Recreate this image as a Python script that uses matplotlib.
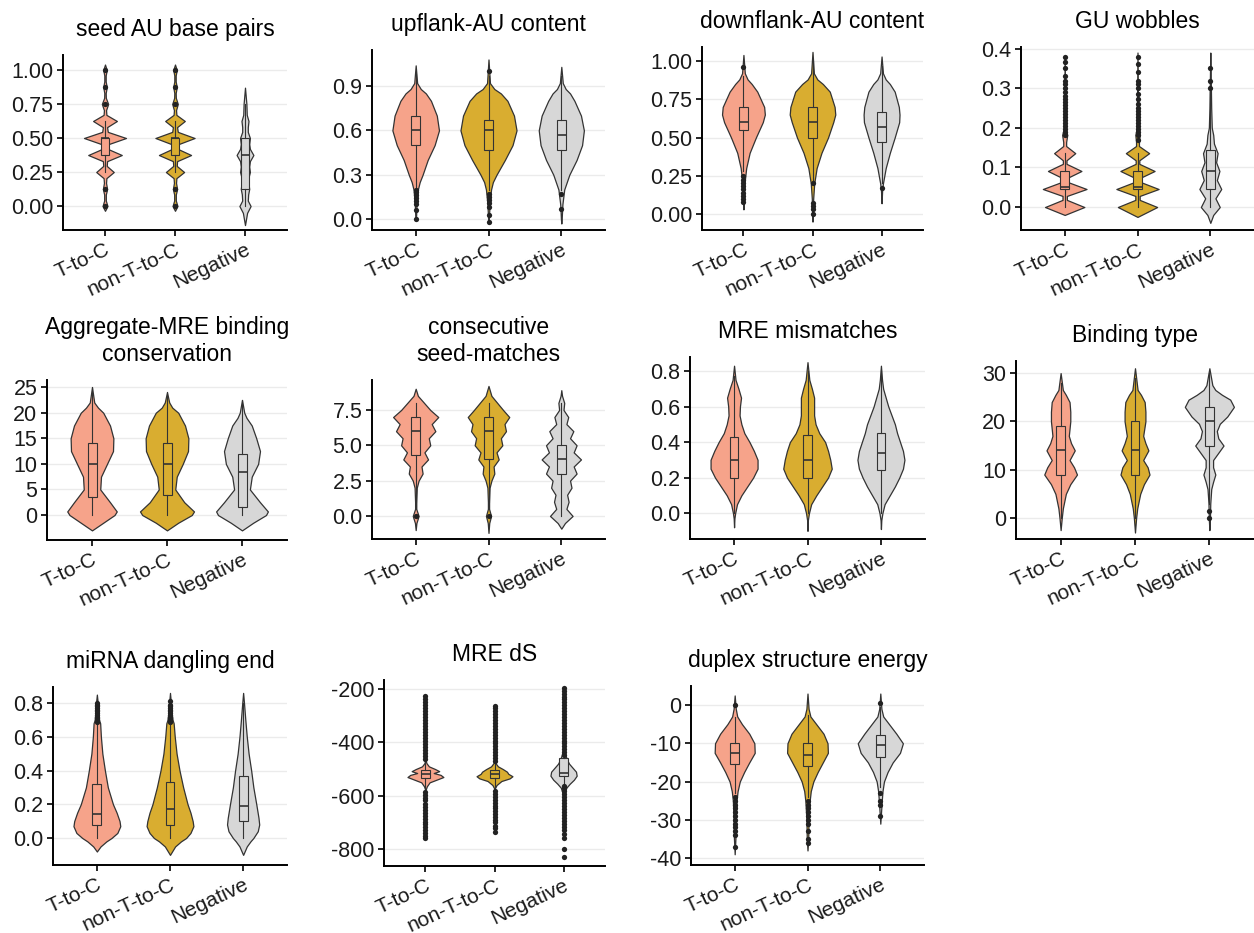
import matplotlib.pyplot as plt

plt.rcParams['font.family'] = ['Liberation Sans', 'DejaVu Sans']

groups = ["T-to-C", "non-T-to-C", "Negative"]
fills = ["#F6A38A", "#D9AD30", "#D7D7D7"]
edge = "#333333"

# each violin: (value, half width), bottom to top
# box: (lower whisker, q1, median, q3, upper whisker)

# seed AU base pairs
seed_au_tc = [(-0.035, 0), (0.0, 0.035), (0.04, 0.012), (0.085, 0.012), (0.125, 0.03), (0.17, 0.015),
              (0.205, 0.02), (0.25, 0.125), (0.295, 0.025), (0.33, 0.03), (0.375, 0.24), (0.42, 0.04),
              (0.455, 0.05), (0.5, 0.3), (0.545, 0.04), (0.58, 0.03), (0.625, 0.17), (0.67, 0.02),
              (0.705, 0.015), (0.75, 0.045), (0.795, 0.012), (0.83, 0.01), (0.875, 0.025), (0.915, 0.01),
              (0.96, 0.01), (1.0, 0.025), (1.04, 0)]
seed_au_ntc = [(-0.035, 0), (0.0, 0.035), (0.04, 0.012), (0.085, 0.012), (0.125, 0.03), (0.17, 0.015),
               (0.205, 0.02), (0.25, 0.13), (0.295, 0.025), (0.33, 0.03), (0.375, 0.23), (0.42, 0.04),
               (0.455, 0.05), (0.5, 0.28), (0.545, 0.04), (0.58, 0.03), (0.625, 0.14), (0.67, 0.02),
               (0.705, 0.015), (0.75, 0.04), (0.795, 0.012), (0.83, 0.01), (0.875, 0.025), (0.915, 0.01),
               (0.96, 0.01), (1.0, 0.025), (1.04, 0)]
seed_au_neg = [(-0.14, 0), (-0.05, 0.03), (0.0, 0.08), (0.04, 0.04), (0.085, 0.045), (0.125, 0.06),
               (0.165, 0.05), (0.21, 0.05), (0.25, 0.07), (0.29, 0.06), (0.33, 0.07), (0.375, 0.12),
               (0.42, 0.07), (0.455, 0.06), (0.5, 0.07), (0.545, 0.04), (0.58, 0.04), (0.625, 0.05),
               (0.67, 0.025), (0.75, 0.02), (0.87, 0)]
seed_au_box = [(0.25, 0.375, 0.5, 0.5, 0.625), (0.25, 0.375, 0.5, 0.5, 0.625), (0.0, 0.125, 0.375, 0.5, 0.75)]
seed_au_out = [[0.0, 0.125, 0.75, 0.875, 1.0], [0.0, 0.125, 0.75, 0.875, 1.0], []]

# upflank-AU content
upflank_tc = [(-0.01, 0), (0.0, 0.004), (0.1, 0.012), (0.2, 0.03), (0.25, 0.055), (0.3, 0.095), (0.4, 0.165),
              (0.5, 0.26), (0.6, 0.32), (0.7, 0.29), (0.8, 0.21), (0.85, 0.14), (0.88, 0.07), (0.92, 0.02), (1.04, 0)]
upflank_ntc = [(-0.03, 0), (0.0, 0.005), (0.1, 0.015), (0.2, 0.035), (0.25, 0.06), (0.3, 0.11), (0.4, 0.225),
               (0.5, 0.33), (0.6, 0.385), (0.7, 0.35), (0.8, 0.26), (0.85, 0.17), (0.88, 0.08), (0.92, 0.02), (1.08, 0)]
upflank_neg = [(-0.03, 0), (0.0, 0.005), (0.1, 0.015), (0.2, 0.04), (0.3, 0.11), (0.4, 0.21), (0.5, 0.285),
               (0.6, 0.31), (0.7, 0.27), (0.8, 0.18), (0.85, 0.12), (0.88, 0.06), (0.92, 0.02), (1.03, 0)]
upflank_box = [(0.22, 0.5, 0.6, 0.7, 0.98), (0.2, 0.47, 0.6, 0.67, 0.97), (0.2, 0.47, 0.57, 0.67, 0.97)]
upflank_out = [[0.0, 0.06, 0.1, 0.125, 0.14, 0.16, 0.18, 0.2],
               [-0.02, 0.03, 0.08, 0.11, 0.13, 0.15, 0.17, 1.0],
               [0.07, 0.17]]

# downflank-AU content
downflank_tc = [(0.03, 0), (0.1, 0.008), (0.2, 0.015), (0.3, 0.04), (0.4, 0.09), (0.5, 0.18), (0.6, 0.28),
                (0.65, 0.31), (0.7, 0.3), (0.8, 0.2), (0.85, 0.12), (0.88, 0.06), (0.92, 0.02), (1.04, 0)]
downflank_ntc = [(-0.05, 0), (0.0, 0.005), (0.1, 0.01), (0.2, 0.025), (0.3, 0.06), (0.4, 0.13), (0.5, 0.225),
                 (0.6, 0.3), (0.65, 0.33), (0.7, 0.32), (0.8, 0.25), (0.85, 0.15), (0.88, 0.07), (0.92, 0.02), (1.06, 0)]
downflank_neg = [(0.07, 0), (0.15, 0.008), (0.2, 0.02), (0.3, 0.06), (0.4, 0.12), (0.5, 0.19), (0.6, 0.255),
                 (0.65, 0.26), (0.7, 0.25), (0.8, 0.19), (0.85, 0.12), (0.88, 0.06), (0.92, 0.02), (1.03, 0)]
downflank_box = [(0.28, 0.55, 0.6, 0.7, 0.9), (0.22, 0.5, 0.6, 0.7, 1.0), (0.2, 0.47, 0.57, 0.67, 0.97)]
downflank_out = [[0.08, 0.1, 0.12, 0.14, 0.16, 0.18, 0.2, 0.22, 0.25, 0.96],
                 [0.0, 0.03, 0.05, 0.07, 0.2],
                 [0.17]]

# GU wobbles
gu_tc = [(-0.02, 0), (0.0, 0.27), (0.018, 0.03), (0.028, 0.03), (0.0455, 0.3), (0.064, 0.03), (0.073, 0.03),
         (0.091, 0.23), (0.109, 0.025), (0.118, 0.025), (0.136, 0.145), (0.154, 0.02), (0.164, 0.02),
         (0.182, 0.035), (0.2, 0.01), (0.38, 0)]
gu_ntc = [(-0.025, 0), (0.0, 0.27), (0.018, 0.03), (0.028, 0.03), (0.0455, 0.29), (0.064, 0.03), (0.073, 0.03),
          (0.091, 0.235), (0.109, 0.025), (0.118, 0.025), (0.136, 0.16), (0.154, 0.02), (0.164, 0.02),
          (0.182, 0.03), (0.2, 0.01), (0.39, 0)]
gu_neg = [(-0.04, 0), (-0.02, 0.04), (0.0, 0.13), (0.022, 0.07), (0.0455, 0.15), (0.068, 0.09), (0.091, 0.125),
          (0.113, 0.08), (0.136, 0.1), (0.16, 0.05), (0.182, 0.04), (0.2, 0.02), (0.25, 0.012), (0.3, 0.008),
          (0.39, 0)]
gu_box = [(0.0, 0.0455, 0.05, 0.091, 0.136), (0.0, 0.0455, 0.05, 0.091, 0.136), (0.0, 0.0455, 0.091, 0.145, 0.29)]
gu_out = [[0.182, 0.19, 0.198, 0.205, 0.212, 0.22, 0.227, 0.235, 0.243, 0.25, 0.258, 0.265, 0.273, 0.28,
           0.29, 0.3, 0.31, 0.318, 0.33, 0.35, 0.365, 0.38],
          [0.17, 0.182, 0.19, 0.198, 0.205, 0.212, 0.22, 0.227, 0.235, 0.243, 0.25, 0.26, 0.273, 0.285,
           0.3, 0.31, 0.318, 0.34, 0.36, 0.38],
          [0.3, 0.318, 0.35]]

# Aggregate-MRE binding conservation
agg_tc = [(-3, 0), (-1.5, 0.15), (0, 0.3), (0.7, 0.33), (2.5, 0.24), (5, 0.11), (7.5, 0.12), (10, 0.2),
          (12.5, 0.28), (15, 0.285), (17.5, 0.24), (20, 0.15), (21, 0.08), (22, 0.03), (25, 0)]
agg_ntc = [(-3, 0), (-1.5, 0.15), (0, 0.33), (0.7, 0.36), (2.5, 0.23), (5, 0.11), (7.5, 0.13), (10, 0.21),
           (12.5, 0.28), (15, 0.285), (17.5, 0.24), (20, 0.15), (21, 0.07), (22, 0.03), (24, 0)]
agg_neg = [(-3, 0), (-1.5, 0.15), (0, 0.32), (0.7, 0.345), (2.5, 0.24), (5, 0.105), (7.5, 0.13), (10, 0.215),
           (12.5, 0.24), (15, 0.19), (17.5, 0.13), (19, 0.06), (20, 0.03), (22.5, 0)]
agg_box = [(0, 3.5, 10, 14, 25), (0, 4, 10, 14, 24), (0, 1.5, 8.5, 12, 22.5)]
agg_out = [[], [], []]

# consecutive seed-matches
seed_tc = [(-1, 0), (-0.5, 0.01), (0, 0.04), (0.5, 0.008), (1, 0.008), (2, 0.015), (2.5, 0.04), (3, 0.095),
           (3.5, 0.08), (4, 0.17), (4.5, 0.12), (5, 0.2), (5.5, 0.18), (6, 0.27), (6.5, 0.22), (7, 0.31),
           (7.5, 0.2), (8, 0.115), (8.5, 0.03), (9, 0)]
seed_ntc = [(-1.2, 0), (-0.5, 0.01), (0, 0.035), (0.5, 0.008), (1, 0.008), (2, 0.015), (2.5, 0.04), (3, 0.08),
            (3.5, 0.07), (4, 0.14), (4.5, 0.11), (5, 0.19), (5.5, 0.17), (6, 0.24), (6.5, 0.22), (7, 0.285),
            (7.5, 0.2), (8, 0.12), (8.5, 0.04), (9.2, 0)]
seed_neg = [(-0.9, 0), (-0.5, 0.05), (0, 0.155), (0.5, 0.07), (1, 0.1), (1.5, 0.08), (2, 0.14), (2.5, 0.12),
            (3, 0.21), (3.5, 0.17), (4, 0.27), (4.5, 0.17), (5, 0.21), (5.5, 0.12), (6, 0.165), (6.5, 0.07),
            (7, 0.095), (7.5, 0.03), (8, 0.04), (8.5, 0.01), (8.9, 0)]
seed_box = [(1, 4.3, 6, 7, 8), (1, 4, 6, 7, 8), (0, 3, 4, 5, 8)]
seed_out = [[0], [0], []]

# MRE mismatches
mism_tc = [(-0.08, 0), (-0.03, 0.005), (0.0, 0.015), (0.05, 0.04), (0.1, 0.1), (0.15, 0.18), (0.2, 0.26),
           (0.25, 0.32), (0.3, 0.32), (0.35, 0.27), (0.4, 0.21), (0.45, 0.14), (0.5, 0.1), (0.55, 0.075),
           (0.6, 0.08), (0.65, 0.095), (0.7, 0.06), (0.75, 0.02), (0.83, 0)]
mism_ntc = [(-0.1, 0), (-0.04, 0.005), (0.0, 0.02), (0.05, 0.05), (0.1, 0.12), (0.15, 0.2), (0.2, 0.28),
            (0.25, 0.33), (0.3, 0.31), (0.35, 0.28), (0.4, 0.24), (0.45, 0.16), (0.5, 0.11), (0.55, 0.09),
            (0.6, 0.09), (0.65, 0.09), (0.7, 0.06), (0.75, 0.025), (0.85, 0)]
mism_neg = [(-0.09, 0), (-0.04, 0.005), (0.0, 0.02), (0.05, 0.05), (0.1, 0.12), (0.15, 0.19), (0.2, 0.25),
            (0.25, 0.3), (0.3, 0.32), (0.35, 0.3), (0.4, 0.26), (0.45, 0.22), (0.5, 0.19), (0.6, 0.1),
            (0.7, 0.03), (0.75, 0.015), (0.83, 0)]
mism_box = [(0.0, 0.2, 0.3, 0.43, 0.77), (0.0, 0.2, 0.3, 0.44, 0.8), (0.0, 0.24, 0.34, 0.45, 0.8)]
mism_out = [[], [], []]

# Binding type
bind_tc = [(-2.5, 0), (0, 0.015), (2, 0.03), (5, 0.07), (7, 0.13), (9, 0.22), (10.5, 0.18), (12, 0.12),
           (14, 0.19), (15.5, 0.14), (17, 0.11), (20, 0.13), (22, 0.13), (24, 0.12), (25.5, 0.07),
           (26.5, 0.03), (30, 0)]
bind_ntc = [(-3, 0), (0, 0.015), (2, 0.03), (5, 0.07), (7, 0.12), (9, 0.195), (10.5, 0.17), (12, 0.11),
            (14, 0.18), (15.5, 0.14), (17, 0.11), (20, 0.14), (22, 0.14), (24, 0.13), (25.5, 0.08),
            (26.5, 0.035), (31, 0)]
bind_neg = [(-2.5, 0), (0, 0.008), (3, 0.012), (6, 0.025), (7.5, 0.05), (9, 0.08), (10.5, 0.05), (12, 0.05),
            (13.5, 0.12), (15, 0.19), (16.5, 0.12), (18, 0.1), (19.5, 0.14), (21, 0.24), (23, 0.33),
            (24.5, 0.28), (25.5, 0.17), (26.5, 0.08), (27.5, 0.04), (31, 0)]
bind_box = [(0, 9, 14, 19, 28), (0, 9, 14, 20, 29), (3, 15, 20, 23, 30)]
bind_out = [[], [], [0, 1.5]]

# miRNA dangling end
dang_tc = [(-0.08, 0), (-0.05, 0.05), (-0.02, 0.13), (0.0, 0.2), (0.03, 0.28), (0.07, 0.32), (0.1, 0.31),
           (0.15, 0.27), (0.2, 0.22), (0.3, 0.15), (0.4, 0.11), (0.5, 0.075), (0.6, 0.055), (0.68, 0.045),
           (0.7, 0.03), (0.75, 0.02), (0.8, 0.012), (0.85, 0)]
dang_ntc = [(-0.1, 0), (-0.05, 0.07), (-0.02, 0.15), (0.0, 0.22), (0.03, 0.28), (0.07, 0.32), (0.1, 0.31),
            (0.15, 0.28), (0.2, 0.24), (0.3, 0.18), (0.4, 0.13), (0.5, 0.09), (0.6, 0.065), (0.68, 0.05),
            (0.7, 0.035), (0.75, 0.02), (0.8, 0.012), (0.86, 0)]
dang_neg = [(-0.1, 0), (-0.05, 0.05), (-0.02, 0.1), (0.0, 0.14), (0.04, 0.2), (0.08, 0.22), (0.12, 0.21),
            (0.2, 0.18), (0.3, 0.14), (0.4, 0.11), (0.5, 0.075), (0.6, 0.05), (0.7, 0.03), (0.8, 0.012),
            (0.86, 0)]
dang_box = [(0.0, 0.08, 0.14, 0.32, 0.68), (0.0, 0.08, 0.17, 0.33, 0.68), (0.0, 0.1, 0.19, 0.37, 0.8)]
dang_out = [[0.69, 0.7, 0.71, 0.72, 0.73, 0.74, 0.75, 0.76, 0.77, 0.78, 0.79, 0.8],
            [0.69, 0.7, 0.71, 0.72, 0.73, 0.74, 0.75, 0.76, 0.77, 0.78, 0.79, 0.81],
            []]

# MRE dS
ds_tc = [(-580, 0), (-565, 0.02), (-550, 0.06), (-540, 0.16), (-530, 0.26), (-522, 0.22), (-515, 0.12),
         (-508, 0.2), (-500, 0.14), (-490, 0.05), (-478, 0.015), (-465, 0)]
ds_ntc = [(-575, 0), (-560, 0.03), (-545, 0.1), (-535, 0.22), (-527, 0.26), (-518, 0.2), (-510, 0.18),
          (-500, 0.12), (-490, 0.05), (-478, 0.015), (-465, 0)]
ds_neg = [(-610, 0), (-590, 0.015), (-570, 0.04), (-555, 0.09), (-540, 0.15), (-525, 0.19), (-510, 0.18),
          (-495, 0.13), (-480, 0.08), (-465, 0.05), (-450, 0.03), (-430, 0.01), (-410, 0)]
ds_box = [(-575, -535, -520, -505, -470), (-575, -535, -520, -505, -470), (-555, -528, -515, -458, -445)]
ds_out = [[-225, -236, -247, -258, -270, -281, -293, -304, -316, -327, -338, -350, -361, -372, -384, -395,
           -407, -418, -430, -441, -452, -463, -585, -596, -607, -618, -630, -641, -652, -664, -675, -686,
           -697, -708, -719, -730, -741, -752, -760],
          [-262, -272, -283, -294, -305, -316, -327, -338, -349, -360, -371, -382, -393, -404, -415, -426,
           -437, -448, -459, -468, -582, -593, -604, -615, -626, -637, -648, -659, -670, -681, -690, -700,
           -712, -722, -738],
          [-195, -206, -217, -228, -239, -250, -261, -272, -283, -294, -305, -316, -327, -338, -349, -360,
           -371, -382, -393, -404, -415, -426, -437, -448, -562, -573, -584, -595, -606, -617, -628, -640,
           -651, -662, -673, -684, -695, -706, -718, -730, -745, -760, -800, -830]]

# duplex structure energy
dup_tc = [(-39, 0), (-35, 0.01), (-30, 0.015), (-25, 0.025), (-22.5, 0.04), (-20, 0.07), (-17.5, 0.13),
          (-15, 0.2), (-12.5, 0.275), (-10, 0.27), (-7.5, 0.2), (-5, 0.1), (-3, 0.035), (-1, 0.015), (2.5, 0)]
dup_ntc = [(-38, 0), (-35, 0.01), (-30, 0.015), (-25, 0.03), (-22.5, 0.045), (-20, 0.08), (-17.5, 0.14),
           (-15, 0.21), (-12.5, 0.28), (-10, 0.275), (-7.5, 0.22), (-5, 0.12), (-3, 0.04), (-1, 0.015), (3, 0)]
dup_neg = [(-31, 0), (-28, 0.01), (-25, 0.02), (-22.5, 0.03), (-20, 0.05), (-17.5, 0.1), (-15, 0.17),
           (-12.5, 0.27), (-10, 0.31), (-7.5, 0.22), (-5, 0.12), (-3, 0.04), (-1, 0.015), (3, 0)]
dup_box = [(-23, -15.5, -12.5, -10, -3), (-24, -16, -13, -10, -2.5), (-21.5, -13.5, -10.4, -7.8, -0.5)]
dup_out = [[0, -24, -25, -26, -27, -28, -29, -30, -31, -32, -33, -34, -37],
           [-25, -26, -27, -28, -29, -30, -31, -33, -35, -36],
           [0.5, -23, -25, -26, -29]]

# title, ticks, tick labels, y limits, violins, boxes, outliers
panels = [
    ("seed AU base pairs", [0, 0.25, 0.5, 0.75, 1.0], ["0.00", "0.25", "0.50", "0.75", "1.00"], (-0.176, 1.11),
     [seed_au_tc, seed_au_ntc, seed_au_neg], seed_au_box, seed_au_out),
    ("upflank-AU content", [0, 0.3, 0.6, 0.9], ["0.0", "0.3", "0.6", "0.9"], (-0.074, 1.144),
     [upflank_tc, upflank_ntc, upflank_neg], upflank_box, upflank_out),
    ("downflank-AU content", [0, 0.25, 0.5, 0.75, 1.0], ["0.00", "0.25", "0.50", "0.75", "1.00"], (-0.105, 1.092),
     [downflank_tc, downflank_ntc, downflank_neg], downflank_box, downflank_out),
    ("GU wobbles", [0, 0.1, 0.2, 0.3, 0.4], ["0.0", "0.1", "0.2", "0.3", "0.4"], (-0.058, 0.404),
     [gu_tc, gu_ntc, gu_neg], gu_box, gu_out),
    ("Aggregate-MRE binding\nconservation", [0, 5, 10, 15, 20, 25], ["0", "5", "10", "15", "20", "25"], (-4.88, 26.4),
     [agg_tc, agg_ntc, agg_neg], agg_box, agg_out),
    ("consecutive\nseed-matches", [0, 2.5, 5, 7.5], ["0.0", "2.5", "5.0", "7.5"], (-1.63, 9.62),
     [seed_tc, seed_ntc, seed_neg], seed_box, seed_out),
    ("MRE mismatches", [0, 0.2, 0.4, 0.6, 0.8], ["0.0", "0.2", "0.4", "0.6", "0.8"], (-0.146, 0.879),
     [mism_tc, mism_ntc, mism_neg], mism_box, mism_out),
    ("Binding type", [0, 10, 20, 30], ["0", "10", "20", "30"], (-4.34, 32.5),
     [bind_tc, bind_ntc, bind_neg], bind_box, bind_out),
    ("miRNA dangling end", [0, 0.2, 0.4, 0.6, 0.8], ["0.0", "0.2", "0.4", "0.6", "0.8"], (-0.16, 0.895),
     [dang_tc, dang_ntc, dang_neg], dang_box, dang_out),
    ("MRE dS", [-800, -600, -400, -200], ["-800", "-600", "-400", "-200"], (-863.75, -166),
     [ds_tc, ds_ntc, ds_neg], ds_box, ds_out),
    ("duplex structure energy", [-40, -30, -20, -10, 0], ["-40", "-30", "-20", "-10", "0"], (-41.8, 4.97),
     [dup_tc, dup_ntc, dup_neg], dup_box, dup_out),
]

# panel frames in pixels: left, top, right, bottom
frames = [(63, 55, 287, 230), (372, 50, 605, 230), (702, 47, 923, 230), (1021, 47, 1254, 230),
          (47, 380, 287, 540), (372, 380, 605, 539), (690, 357, 925, 539), (1016, 361, 1254, 539),
          (53, 687, 287, 865), (384, 680, 605, 866), (691, 686, 924, 865)]

W, H = 1254, 933
fig = plt.figure(figsize=(W / 100, H / 100), dpi=100)

for (title, ticks, labels, ylim, shapes, boxes, outs), (l, t, r, b) in zip(panels, frames):
    ax = fig.add_axes([l / W, 1 - b / H, (r - l) / W, (b - t) / H])
    for i, (prof, st, fl, col) in enumerate(zip(shapes, boxes, outs, fills)):
        ys = [p[0] for p in prof]
        ws = [p[1] for p in prof]
        vp = dict(coords=ys, vals=ws, mean=st[2], median=st[2], min=ys[0], max=ys[-1])
        parts = ax.violin([vp], positions=[i + 1], widths=[2 * max(ws)], showextrema=False)
        for body in parts['bodies']:
            body.set_facecolor(col)
            body.set_edgecolor(edge)
            body.set_alpha(1)
            body.set_linewidth(0.9)
        ax.bxp([dict(whislo=st[0], q1=st[1], med=st[2], q3=st[3], whishi=st[4], fliers=fl)],
               positions=[i + 1], widths=0.12, patch_artist=True, showcaps=False, manage_ticks=False,
               boxprops=dict(facecolor=col, edgecolor=edge, linewidth=0.8),
               medianprops=dict(color=edge, linewidth=1.2),
               whiskerprops=dict(color=edge, linewidth=0.8),
               flierprops=dict(marker='o', markersize=3.8, markerfacecolor='#222222',
                               markeredgecolor='none', linestyle='none'))
    ax.set_xlim(0.4, 3.6)
    ax.set_ylim(*ylim)
    ax.set_yticks(ticks)
    ax.set_yticklabels(labels, fontsize=15.5)
    ax.set_xticks([1, 2, 3])
    ax.set_xticklabels(groups, rotation=25, ha='right', va='top', rotation_mode='anchor', fontsize=15)
    ax.yaxis.grid(True, color='#EBEBEB', linewidth=1.0)
    ax.set_axisbelow(True)
    for side in ('top', 'right'):
        ax.spines[side].set_visible(False)
    for side in ('left', 'bottom'):
        ax.spines[side].set_linewidth(1.4)
        ax.spines[side].set_color('black')
    ax.tick_params(axis='both', length=4, width=1.2, color='black', labelcolor='#1a1a1a', pad=3)
    ax.set_title(title, fontsize=16.5, pad=14, color='black')

fig.savefig("out.png", dpi=100)
